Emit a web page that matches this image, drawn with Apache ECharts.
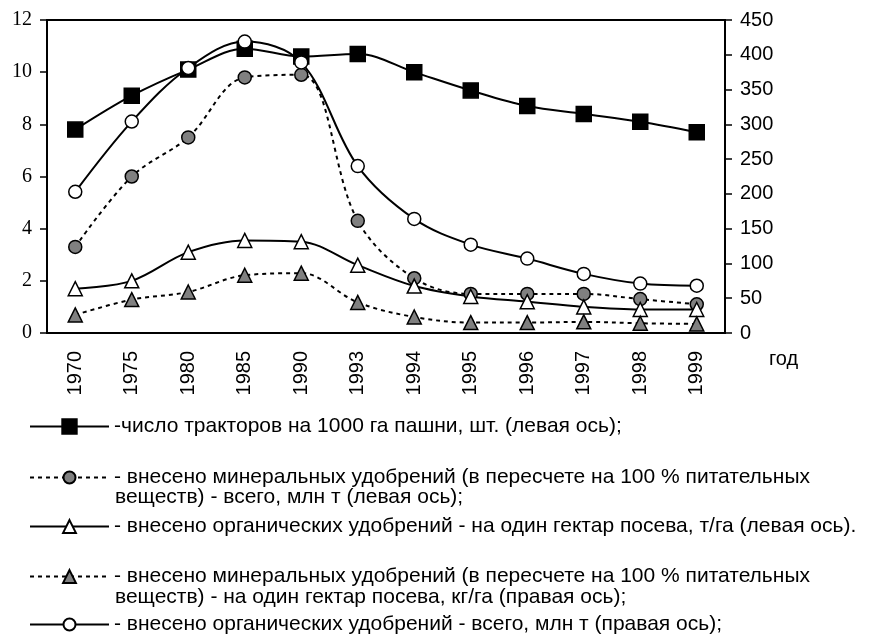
<!DOCTYPE html>
<html>
<head>
<meta charset="utf-8">
<script src="https://cdn.jsdelivr.net/npm/echarts@6/dist/echarts.min.js"></script>
<style>
  html, body { margin: 0; padding: 0; background: #fff; }
  #chart { width: 877px; height: 636px; }
</style>
</head>
<body>
<div id="chart"></div>
<script>
const years = ["1970", "1975", "1980", "1985", "1990", "1993", "1994", "1995", "1996", "1997", "1998", "1999"];

// left axis
const tractors = [7.8, 9.1, 10.1, 10.9, 10.6, 10.7, 10.0, 9.3, 8.7, 8.4, 8.1, 7.7];
const mineralTotal = [3.3, 6.0, 7.5, 9.8, 9.9, 4.3, 2.1, 1.5, 1.5, 1.5, 1.3, 1.1];
const organicPerHa = [1.7, 2.0, 3.1, 3.55, 3.5, 2.6, 1.8, 1.4, 1.2, 1.0, 0.9, 0.9];

// right axis
const mineralPerHa = [26, 48, 59, 83, 86, 44, 23, 15, 15, 16, 14, 13];
const organicTotal = [203, 304, 381, 419, 389, 240, 164, 127, 107, 85, 71, 68];

const leftTicks = { min: 0, max: 12, interval: 2 };
const rightTicks = { min: 0, max: 450, interval: 50 };

const names = [
  "-число тракторов на 1000 га пашни, шт. (левая ось);",
  "- внесено минеральных удобрений (в пересчете на 100 % питательных",
  "- внесено органических удобрений - на один гектар посева, т/га (левая ось).",
  "- внесено минеральных удобрений (в пересчете на 100 % питательных ",
  "- внесено органических удобрений - всего, млн т (правая ось);",
];
const continuation = [
  { text: "веществ) - всего, млн т (левая ось);", top: 487 },
  { text: "веществ) - на один гектар посева, кг/га (правая ось);", top: 587 },
];

const SANS = "Liberation Sans, Arial, sans-serif";
const SERIF = "Liberation Serif, Times New Roman, serif";
const DASH = [4, 4];
const LEGEND_FONT = 21;

function lineSeries(name, data, yAxisIndex, symbol, size, fill, dashed) {
  return {
    name,
    type: "line",
    data,
    yAxisIndex,
    smooth: 0.35,
    symbol,
    symbolSize: size,
    lineStyle: { color: "#000", width: 2, type: dashed ? DASH : "solid" },
    itemStyle: { color: fill, borderColor: "#000", borderWidth: 1.5 },
    emphasis: { disabled: true },
  };
}

function legendRow(name, top, itemHeight) {
  return {
    data: [name],
    left: 29,
    top,
    padding: 0,
    itemWidth: 79,
    itemHeight,
    selectedMode: false,
    textStyle: { fontFamily: SANS, fontSize: LEGEND_FONT, color: "#000" },
  };
}

const chart = echarts.init(document.getElementById("chart"));
chart.setOption({
  animation: false,
  backgroundColor: "#fff",
  grid: {
    left: 47,
    top: 20,
    width: 678,
    height: 313,
    show: true,
    borderColor: "#000",
    borderWidth: 2,
  },
  xAxis: {
    type: "category",
    data: years,
    boundaryGap: true,
    name: "год",
    nameLocation: "end",
    nameGap: 44,
    nameTextStyle: {
      fontFamily: SANS,
      fontSize: 20,
      color: "#000",
      verticalAlign: "top",
      padding: [16, 0, 0, 0],
    },
    axisLine: { lineStyle: { color: "#000", width: 2 } },
    axisTick: { length: 8, lineStyle: { color: "#000", width: 1.5 } },
    axisLabel: { rotate: 90, margin: 18, fontFamily: SANS, fontSize: 20, color: "#000" },
    splitLine: { show: false },
  },
  yAxis: [
    {
      type: "value",
      position: "left",
      ...leftTicks,
      axisLine: { show: true, lineStyle: { color: "#000", width: 2 } },
      axisTick: { show: true, length: 7, lineStyle: { color: "#000", width: 1.5 } },
      axisLabel: { margin: 15, fontFamily: SERIF, fontSize: 20, color: "#000" },
      splitLine: { show: false },
    },
    {
      type: "value",
      position: "right",
      ...rightTicks,
      axisLine: { show: true, lineStyle: { color: "#000", width: 2 } },
      axisTick: { show: true, length: 7, lineStyle: { color: "#000", width: 1.5 } },
      axisLabel: { margin: 15, fontFamily: SANS, fontSize: 20, color: "#000" },
      splitLine: { show: false },
    },
  ],
  legend: [
    legendRow(names[0], 416, 18),
    legendRow(names[1], 467, 15),
    legendRow(names[2], 516, 16),
    legendRow(names[3], 566, 16),
    legendRow(names[4], 614, 15),
  ],
  graphic: continuation.map((line) => ({
    type: "text",
    left: 115,
    top: line.top,
    style: { text: line.text, fontFamily: SANS, fontSize: LEGEND_FONT, fill: "#000" },
  })),
  series: [
    lineSeries(names[0], tractors, 0, "rect", 15, "#000", false),
    lineSeries(names[1], mineralTotal, 0, "circle", 13, "#808080", true),
    lineSeries(names[2], organicPerHa, 0, "triangle", 14, "#fff", false),
    lineSeries(names[3], mineralPerHa, 1, "triangle", 14, "#808080", true),
    lineSeries(names[4], organicTotal, 1, "circle", 13, "#fff", false),
  ],
});
</script>
</body>
</html>
